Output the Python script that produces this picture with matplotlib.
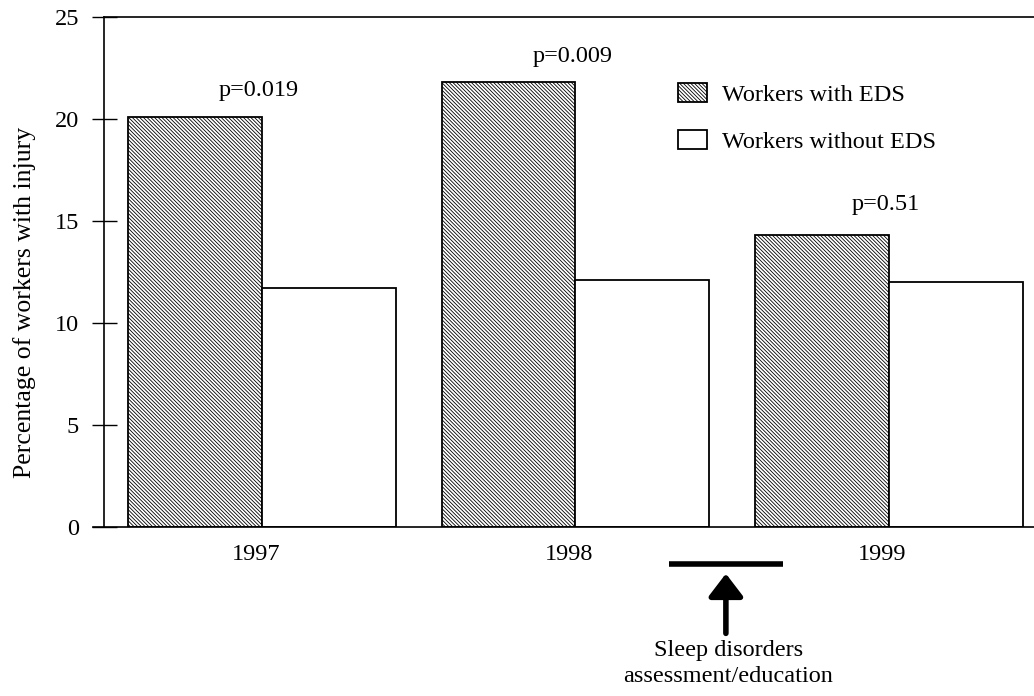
import numpy as np
import matplotlib.pyplot as plt
from matplotlib.patches import Patch

plt.rcParams["font.family"] = ["Liberation Serif", "DejaVu Serif"]
plt.rcParams["hatch.linewidth"] = 0.6

years = ["1997", "1998", "1999"]
with_eds = [20.1, 21.8, 14.3]
without_eds = [11.7, 12.1, 12.0]
p_values = ["p=0.019", "p=0.009", "p=0.51"]
p_heights = [20.9, 22.55, 15.3]

FS = 17.5
HATCH = "\\" * 9

x = np.arange(len(years))
w = 0.427

fig = plt.figure(figsize=(10.34, 6.96), dpi=100)
ax = fig.add_axes([0.1006, 0.2428, 0.8994, 0.7328])

ax.bar(x - w / 2, with_eds, width=w, facecolor="white", edgecolor="black",
       hatch=HATCH, linewidth=1.3)
ax.bar(x + w / 2, without_eds, width=w, facecolor="white", edgecolor="black",
       linewidth=1.3)

for xi, txt, h in zip(x, p_values, p_heights):
    ax.text(xi - 0.01, h, txt, ha="center", va="bottom", fontsize=FS)

ax.set_xlim(-0.504, 2.463)
ax.set_ylim(0, 25)
ax.set_yticks([0, 5, 10, 15, 20, 25])
ax.set_xticks(x - 0.02)
ax.set_xticklabels(years, fontsize=FS)
ax.tick_params(axis="x", length=0, pad=12)
ax.tick_params(axis="y", direction="inout", length=18, width=1, pad=9, labelsize=FS)
ax.spines["right"].set_visible(False)
for s in ["left", "top", "bottom"]:
    ax.spines[s].set_linewidth(1.2)
ax.set_ylabel("Percentage of workers with injury", fontsize=18.5)
ax.yaxis.set_label_coords(-0.073, 0.44)

# bottom axis line runs a bit left of the y axis
ax.plot([-0.54, -0.504], [0, 0], color="black", lw=1.2, clip_on=False)

handles = [Patch(facecolor="white", edgecolor="black", hatch=HATCH, lw=1.3),
           Patch(facecolor="white", edgecolor="black", lw=1.3)]
ax.legend(handles, ["Workers with EDS", "Workers without EDS"], loc="upper left",
          bbox_to_anchor=(0.594, 0.913), frameon=False, fontsize=FS,
          handlelength=1.2, handleheight=0.82, handletextpad=0.6, labelspacing=1.0)

# intervention marker
ax.plot([1.30, 1.662], [-1.8, -1.8], color="black", lw=4, clip_on=False,
        solid_capstyle="butt")
ax.annotate("", xy=(1.48, -2.15), xytext=(1.48, -5.35),
            arrowprops=dict(arrowstyle="-|>,head_length=0.55,head_width=0.42",
                            color="black", lw=4, mutation_scale=25),
            annotation_clip=False)
ax.text(1.487, -5.55, "Sleep disorders\nassessment/education", ha="center",
        va="top", fontsize=FS, linespacing=1.3, clip_on=False)

fig.savefig("out.png", dpi=100)
